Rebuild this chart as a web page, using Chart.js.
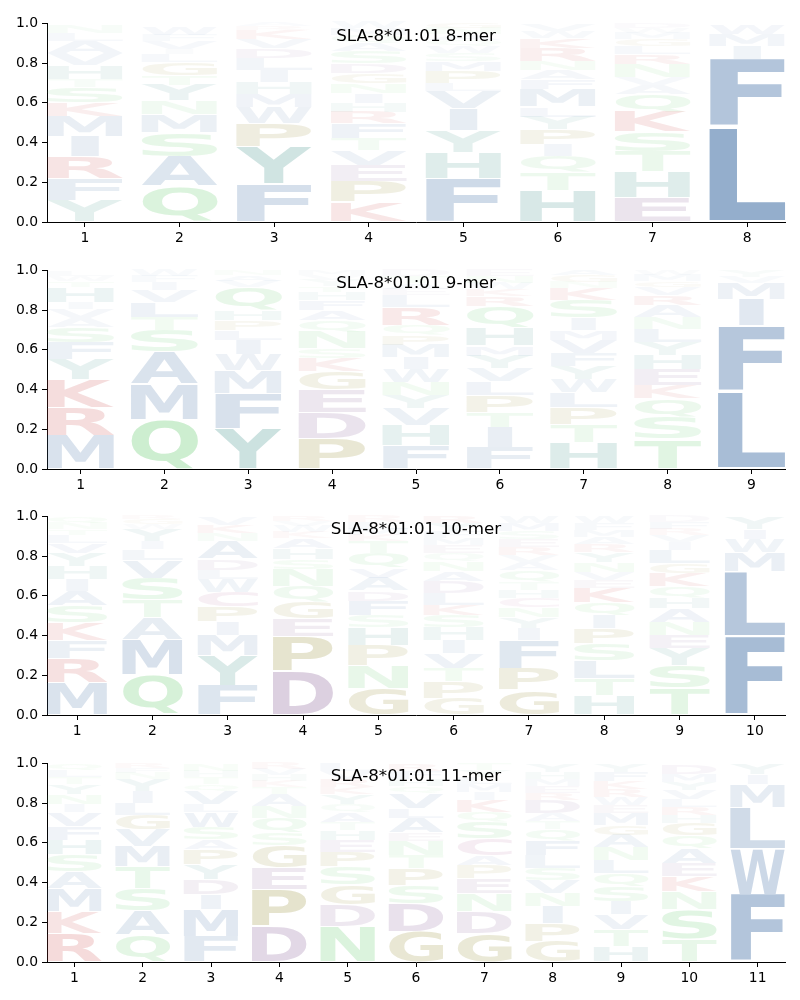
<!DOCTYPE html>
<html><head><meta charset="utf-8">
<script src="https://cdn.jsdelivr.net/npm/chart.js@4.4.1/dist/chart.umd.min.js"></script>
<style>
html,body{margin:0;padding:0;background:#fff;}
#wrap{position:relative;width:800px;height:1000px;}
canvas{position:absolute;left:0;}
</style></head><body><div id="wrap"></div>
<script>
// ---------------- DATA ----------------
const titles = ['SLA-8*01:01 8-mer', 'SLA-8*01:01 9-mer', 'SLA-8*01:01 10-mer', 'SLA-8*01:01 11-mer'];
const yTickValues = [0, 0.2, 0.4, 0.6, 0.8, 1.0];
const yTickLabels = ['0.0', '0.2', '0.4', '0.6', '0.8', '1.0'];

const positions8 = ['1','2','3','4','5','6','7','8'];
const letters8 = ['YFRIMKSTHVALN','QASMNYTGLIVFW','FYPWMHILDVKRA','KPEVTFRHINGDSAQMW','FHYIVLPMSWQANG','HTQIPYLMFANRKWV','EHTSKQAVNRLGMWD','LFIMW'];
const heights8 = [
  [0.11,0.11,0.11,0.10,0.10,0.07,0.08,0.04,0.07,0.06,0.06,0.04,0.04],
  [0.18,0.15,0.12,0.09,0.07,0.08,0.05,0.065,0.04,0.025,0.04,0.03,0.04],
  [0.19,0.19,0.115,0.08,0.07,0.06,0.06,0.06,0.05,0.045,0.045,0.02,0.02],
  [0.10,0.105,0.08,0.075,0.06,0.075,0.06,0.045,0.05,0.05,0.05,0.05,0.06,0.04,0.04,0.035,0.03],
  [0.22,0.13,0.11,0.11,0.09,0.04,0.06,0.05,0.04,0.035,0.03,0.03,0.03,0.03],
  [0.16,0.09,0.08,0.06,0.075,0.065,0.05,0.09,0.05,0.045,0.045,0.065,0.05,0.035,0.035],
  [0.125,0.13,0.10,0.10,0.10,0.09,0.045,0.04,0.065,0.05,0.04,0.035,0.03,0.025,0.025],
  [0.48,0.34,0.065,0.06,0.05]
];

const positions9 = ['1','2','3','4','5','6','7','8','9'];
const letters9 = ['MRKYFSAVIHTWL','QMASTLVIFW','YFMWILPHQVAN','PDEGKSNQAFHTYVM','FHVYNWIMPQRLEATD','FITPLVYMHQRKWNE','HTPLWYFVMISKNGA','TSQKEHYLNARVGMW','LFIMVY'];
const heights9 = [
  [0.17,0.14,0.14,0.10,0.085,0.08,0.045,0.045,0.035,0.075,0.03,0.025,0.025],
  [0.25,0.175,0.165,0.11,0.065,0.075,0.06,0.04,0.03,0.03],
  [0.205,0.175,0.115,0.08,0.075,0.05,0.05,0.05,0.115,0.03,0.03,0.025],
  [0.155,0.13,0.115,0.09,0.065,0.05,0.085,0.06,0.05,0.05,0.04,0.03,0.03,0.025,0.025],
  [0.12,0.10,0.085,0.065,0.065,0.065,0.06,0.065,0.05,0.05,0.09,0.06,0.03,0.03,0.035,0.03],
  [0.11,0.10,0.075,0.085,0.07,0.065,0.065,0.05,0.09,0.11,0.05,0.035,0.03,0.035,0.03],
  [0.135,0.09,0.085,0.075,0.065,0.065,0.065,0.07,0.05,0.06,0.09,0.06,0.03,0.035,0.03],
  [0.15,0.11,0.095,0.065,0.08,0.075,0.065,0.065,0.06,0.06,0.05,0.04,0.03,0.03,0.025],
  [0.39,0.33,0.135,0.08,0.03,0.03]
];

const positions10 = ['1','2','3','4','5','6','7','8','9','10'];
const letters10 = ['MRFKSAIHYVLTNQ','QMATSVLIYWGR','FYMIPCWLDANKV','DPEGQNSHAKWVR','GNPHSFDAVQTKMLR','GPTVIHSKLDANQEMFYR','GPFIYNCHTQAVRESMW','HTLSPIQKEVNYRAMFW','TSYENAHQKGLIVRFD','FLMWIY'];
const heights10 = [
  [0.165,0.12,0.09,0.09,0.085,0.075,0.06,0.065,0.065,0.05,0.04,0.03,0.03,0.035],
  [0.205,0.175,0.11,0.09,0.11,0.09,0.055,0.04,0.06,0.025,0.025,0.02],
  [0.15,0.15,0.10,0.07,0.075,0.075,0.065,0.045,0.055,0.09,0.04,0.04,0.04],
  [0.22,0.175,0.09,0.085,0.08,0.085,0.05,0.055,0.05,0.03,0.03,0.025,0.025],
  [0.135,0.115,0.10,0.09,0.06,0.075,0.05,0.065,0.05,0.075,0.06,0.03,0.03,0.035,0.03],
  [0.085,0.085,0.065,0.075,0.065,0.065,0.06,0.055,0.06,0.06,0.05,0.05,0.04,0.04,0.035,0.035,0.04,0.035],
  [0.125,0.11,0.14,0.06,0.055,0.05,0.05,0.04,0.04,0.06,0.04,0.035,0.04,0.04,0.04,0.04,0.035],
  [0.10,0.085,0.09,0.085,0.075,0.065,0.065,0.075,0.04,0.04,0.05,0.05,0.04,0.035,0.035,0.035,0.035],
  [0.135,0.115,0.085,0.065,0.065,0.07,0.055,0.06,0.065,0.05,0.065,0.04,0.035,0.03,0.035,0.03],
  [0.395,0.33,0.095,0.065,0.05,0.06]
];

const positions11 = ['1','2','3','4','5','6','7','8','9','10','11'];
const letters11 = ['RKMASHFVINYTLQ','QASTMVGLIYNFR','FMIDYPASWLVQTHN','DPEGSQNATKHVR','NDGSPEHTAQYKRVL','GDSPTNEALVQHFR','GDNEPACSQKIMLYT','GPINVSLFQTADREMHY','HTVISQLNAGMEWRKFY','TSNKEAQGHRLVYMD','FWLMIY'];
const heights11 = [
  [0.145,0.11,0.115,0.085,0.085,0.075,0.07,0.07,0.04,0.05,0.05,0.035,0.035,0.035],
  [0.135,0.125,0.11,0.11,0.10,0.085,0.075,0.06,0.06,0.06,0.03,0.025,0.025],
  [0.13,0.135,0.075,0.075,0.075,0.075,0.05,0.065,0.075,0.04,0.065,0.035,0.035,0.03,0.035],
  [0.18,0.185,0.11,0.11,0.065,0.075,0.06,0.06,0.035,0.03,0.03,0.03,0.03],
  [0.18,0.11,0.10,0.09,0.075,0.06,0.05,0.04,0.05,0.04,0.05,0.035,0.04,0.04,0.04],
  [0.155,0.14,0.09,0.085,0.065,0.075,0.04,0.075,0.05,0.075,0.035,0.035,0.04,0.035],
  [0.145,0.11,0.09,0.075,0.065,0.05,0.085,0.085,0.05,0.06,0.04,0.04,0.035,0.035,0.035],
  [0.105,0.09,0.085,0.065,0.065,0.06,0.065,0.075,0.06,0.04,0.04,0.065,0.035,0.035,0.035,0.035,0.04],
  [0.08,0.085,0.075,0.065,0.075,0.065,0.065,0.065,0.065,0.05,0.06,0.04,0.04,0.04,0.04,0.045,0.04],
  [0.115,0.15,0.09,0.075,0.065,0.075,0.065,0.065,0.04,0.04,0.04,0.045,0.04,0.04,0.045],
  [0.34,0.23,0.21,0.115,0.05,0.055]
];

// ---------------- STYLE ----------------
const BLUE = [84,125,173], GREEN = [101,203,110], OLIVE = [145,136,44],
      PURPLE = [133,91,147], RED = [200,65,65], TEAL = [65,146,138], PINK = [176,90,143];
const aaColors = {
  A:BLUE, V:BLUE, L:BLUE, I:BLUE, M:BLUE, F:BLUE, W:BLUE,
  S:GREEN, T:GREEN, N:GREEN, Q:GREEN,
  G:OLIVE, P:OLIVE, D:PURPLE, E:PURPLE, K:RED, R:RED, H:TEAL, Y:TEAL, C:PINK
};
function glyphColor(ch, h) {
  const c = aaColors[ch] || BLUE;
  const a = Math.min(1, 1.3 * h);
  return `rgba(${c[0]},${c[1]},${c[2]},${a.toFixed(3)})`;
}
const GLYPH_FONT = "bold 100px 'DejaVu Sans'";
const VPAD = 0.04;

const metricsCache = {};
function glyphMetrics(ctx, ch) {
  if (!metricsCache[ch]) {
    ctx.save();
    ctx.font = GLYPH_FONT; ctx.textAlign = 'left'; ctx.textBaseline = 'alphabetic';
    const m = ctx.measureText(ch);
    ctx.restore();
    metricsCache[ch] = {l: m.actualBoundingBoxLeft, r: m.actualBoundingBoxRight,
                        a: m.actualBoundingBoxAscent, d: m.actualBoundingBoxDescent};
  }
  return metricsCache[ch];
}

const logoPlugin = {
  id: 'logoGlyphs',
  afterDatasetsDraw(chart) {
    const ctx = chart.ctx;
    const eM = glyphMetrics(ctx, 'E');
    chart.data.datasets.forEach((ds, di) => {
      const meta = chart.getDatasetMeta(di);
      meta.data.forEach((bar, i) => {
        const ch = ds.glyphs[i];
        if (!ch) return;
        const p = bar.getProps(['x', 'y', 'base', 'width'], true);
        const top = Math.min(p.y, p.base), bottom = Math.max(p.y, p.base);
        const h = bottom - top;
        if (h < 0.3) return;
        const pad = h * VPAD / 2;
        const gh = h - 2 * pad;
        const m = glyphMetrics(ctx, ch);
        const inkW = m.l + m.r, inkH = m.a + m.d;
        const sx = Math.min(p.width / inkW, p.width / (eM.l + eM.r));
        const sy = gh / inkH;
        const left = p.x - inkW * sx / 2;
        ctx.save();
        ctx.font = GLYPH_FONT;
        ctx.textAlign = 'left'; ctx.textBaseline = 'alphabetic';
        ctx.fillStyle = ds.glyphColors[i];
        ctx.translate(left + m.l * sx, bottom - pad - m.d * sy);
        ctx.scale(sx, sy);
        ctx.fillText(ch, 0, 0);
        ctx.restore();
      });
    });
  }
};

const titlePlugin = {
  id: 'panelTitle',
  afterDraw(chart, args, opts) {
    const ctx = chart.ctx, a = chart.chartArea;
    ctx.save();
    ctx.font = "16.7px 'DejaVu Sans'";
    ctx.fillStyle = '#000';
    ctx.textAlign = 'center'; ctx.textBaseline = 'middle';
    ctx.fillText(opts.text, (a.left + a.right) / 2, a.top + 13);
    ctx.restore();
  }
};

Chart.defaults.font.family = "'DejaVu Sans'";
Chart.defaults.font.size = 13.9;
Chart.defaults.color = '#000';

const panels = [
  {title: titles[0], labels: positions8, letters: letters8, heights: heights8},
  {title: titles[1], labels: positions9, letters: letters9, heights: heights9},
  {title: titles[2], labels: positions10, letters: letters10, heights: heights10},
  {title: titles[3], labels: positions11, letters: letters11, heights: heights11}
];
const axesTops = [21, 268, 514, 761];

const wrap = document.getElementById('wrap');
panels.forEach((pan, pi) => {
  const cv = document.createElement('canvas');
  cv.width = 800; cv.height = 240;
  cv.style.top = (axesTops[pi] - 10) + 'px';
  wrap.appendChild(cv);
  const maxLayers = Math.max(...pan.letters.map(s => s.length));
  const datasets = [];
  for (let k = 0; k < maxLayers; k++) {
    datasets.push({
      data: pan.letters.map((s, i) => ({x: i + 1, y: k < pan.heights[i].length ? pan.heights[i][k] : 0})),
      glyphs: pan.letters.map(s => s[k] || ''),
      glyphColors: pan.letters.map((s, i) => s[k] ? glyphColor(s[k], pan.heights[i][k]) : 'rgba(0,0,0,0)'),
      backgroundColor: 'rgba(0,0,0,0)',
      borderWidth: 0,
      barPercentage: 0.8,
      categoryPercentage: 1.0
    });
  }
  const n = pan.labels.length;
  new Chart(cv, {
    type: 'bar',
    data: {datasets},
    options: {
      responsive: false, animation: false, devicePixelRatio: 1, events: [],
      layout: {padding: {top: 10, right: 15, bottom: 4, left: 0}},
      plugins: {legend: {display: false}, tooltip: {enabled: false}, panelTitle: {text: pan.title}},
      scales: {
        x: {
          type: 'linear', stacked: true, offset: false,
          min: 0.6, max: n + 0.4,
          afterBuildTicks: s => { s.ticks = pan.labels.map((l, i) => ({value: i + 1})); },
          afterFit: s => { s.height = 25; },
          ticks: {autoSkip: false, maxRotation: 0, padding: 3, callback: (v, i) => pan.labels[i]},
          grid: {display: true, offset: false, drawOnChartArea: false, drawTicks: true, tickLength: 5, color: '#000', tickColor: '#000'},
          border: {display: true, color: '#000', width: 1}
        },
        y: {
          stacked: true, min: 0, max: 1,
          afterBuildTicks: s => { s.ticks = yTickValues.map(v => ({value: v})); },
          afterFit: s => { s.width = 47; },
          ticks: {padding: 4, callback: (v, i) => yTickLabels[i]},
          grid: {display: true, drawOnChartArea: false, drawTicks: true, tickLength: 5, color: '#000', tickColor: '#000'},
          border: {display: true, color: '#000', width: 1}
        }
      }
    },
    plugins: [logoPlugin, titlePlugin]
  });
});
</script></body></html>
